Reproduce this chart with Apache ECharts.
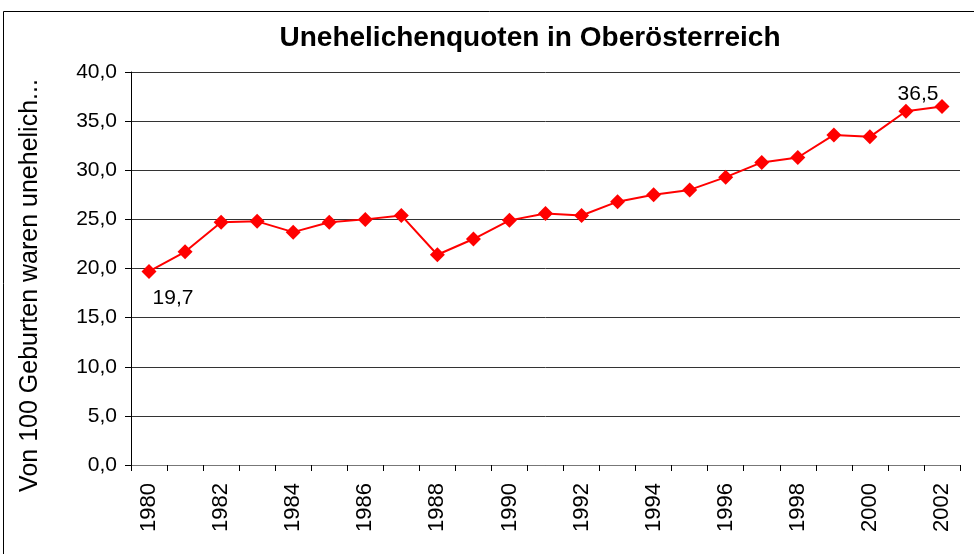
<!DOCTYPE html>
<html>
<head>
<meta charset="utf-8">
<script src="https://cdn.jsdelivr.net/npm/echarts@6/dist/echarts.min.js"></script>
<style>
  html, body { margin: 0; padding: 0; background: #fff; }
  #chart { width: 974px; height: 554px; }
</style>
</head>
<body>
<div id="chart"></div>
<script>
// Jahre und Quoten
const years = ['1980','1981','1982','1983','1984','1985','1986','1987','1988','1989','1990','1991',
  '1992','1993','1994','1995','1996','1997','1998','1999','2000','2001','2002']
const quoten = [19.7, 21.7, 24.7, 24.8, 23.7, 24.7, 25.0, 25.4, 21.4, 23.0, 24.9, 25.6,
  25.4, 26.8, 27.5, 28.0, 29.3, 30.8, 31.3, 33.6, 33.4, 36.0, 36.5]
const yTicks = [0, 5, 10, 15, 20, 25, 30, 35, 40]

const fmt = v => v.toFixed(1).replace('.', ',')
const font = 'Liberation Sans, Arial, sans-serif'

const seriesData = quoten.map((v, i) => {
  if (i === 0) {
    return { value: v, label: { show: true, position: 'bottom', offset: [24, 4] } }
  }
  if (i === quoten.length - 1) {
    return { value: v, label: { show: true, position: 'top', offset: [-24, 11] } }
  }
  return v
})

let chart = echarts.init(document.getElementById('chart'))
chart.setOption({
  animation: false,
  textStyle: { fontFamily: font },
  title: {
    text: 'Unehelichenquoten in Oberösterreich',
    left: 525,
    textAlign: 'center',
    top: 19,
    textStyle: { fontSize: 28, fontWeight: 'bold', color: '#000', fontFamily: font }
  },
  graphic: [{
    type: 'rect',
    shape: { x: 3.5, y: 11.5, width: 1000, height: 600 },
    style: { fill: 'none', stroke: '#000', lineWidth: 1 },
    silent: true
  }],
  grid: { left: 131, right: 14, top: 72, bottom: 89 },
  xAxis: {
    type: 'category',
    data: years,
    boundaryGap: true,
    axisLine: { lineStyle: { color: '#777', width: 1 } },
    axisTick: { show: true, interval: 0, length: 6, lineStyle: { color: '#000' } },
    axisLabel: { interval: 1, rotate: 90, fontSize: 22, color: '#000', margin: 18, fontFamily: font }
  },
  yAxis: {
    type: 'value',
    min: yTicks[0],
    max: yTicks[yTicks.length - 1],
    interval: 5,
    name: 'Von 100 Geburten waren unehelich...',
    nameLocation: 'middle',
    nameGap: 88,
    nameRotate: 90,
    // Abstand rechts schiebt den Text nach unten
    nameTextStyle: { fontSize: 25, color: '#000', fontFamily: font, padding: [0, 34, 0, 0] },
    axisLine: { show: true, lineStyle: { color: '#000' } },
    axisTick: { show: true, length: 6, lineStyle: { color: '#000' } },
    axisLabel: { fontSize: 21, color: '#000', margin: 14, fontFamily: font, formatter: v => fmt(v) },
    splitLine: { lineStyle: { color: '#333', width: 1 } }
  },
  series: [{
    type: 'line',
    data: seriesData,
    symbol: 'diamond',
    symbolSize: 15,
    lineStyle: { color: '#ff0000', width: 2 },
    itemStyle: { color: '#ff0000' },
    label: {
      show: false,
      fontSize: 21,
      color: '#000',
      fontFamily: font,
      formatter: p => fmt(p.value)
    }
  }]
})
</script>
</body>
</html>
